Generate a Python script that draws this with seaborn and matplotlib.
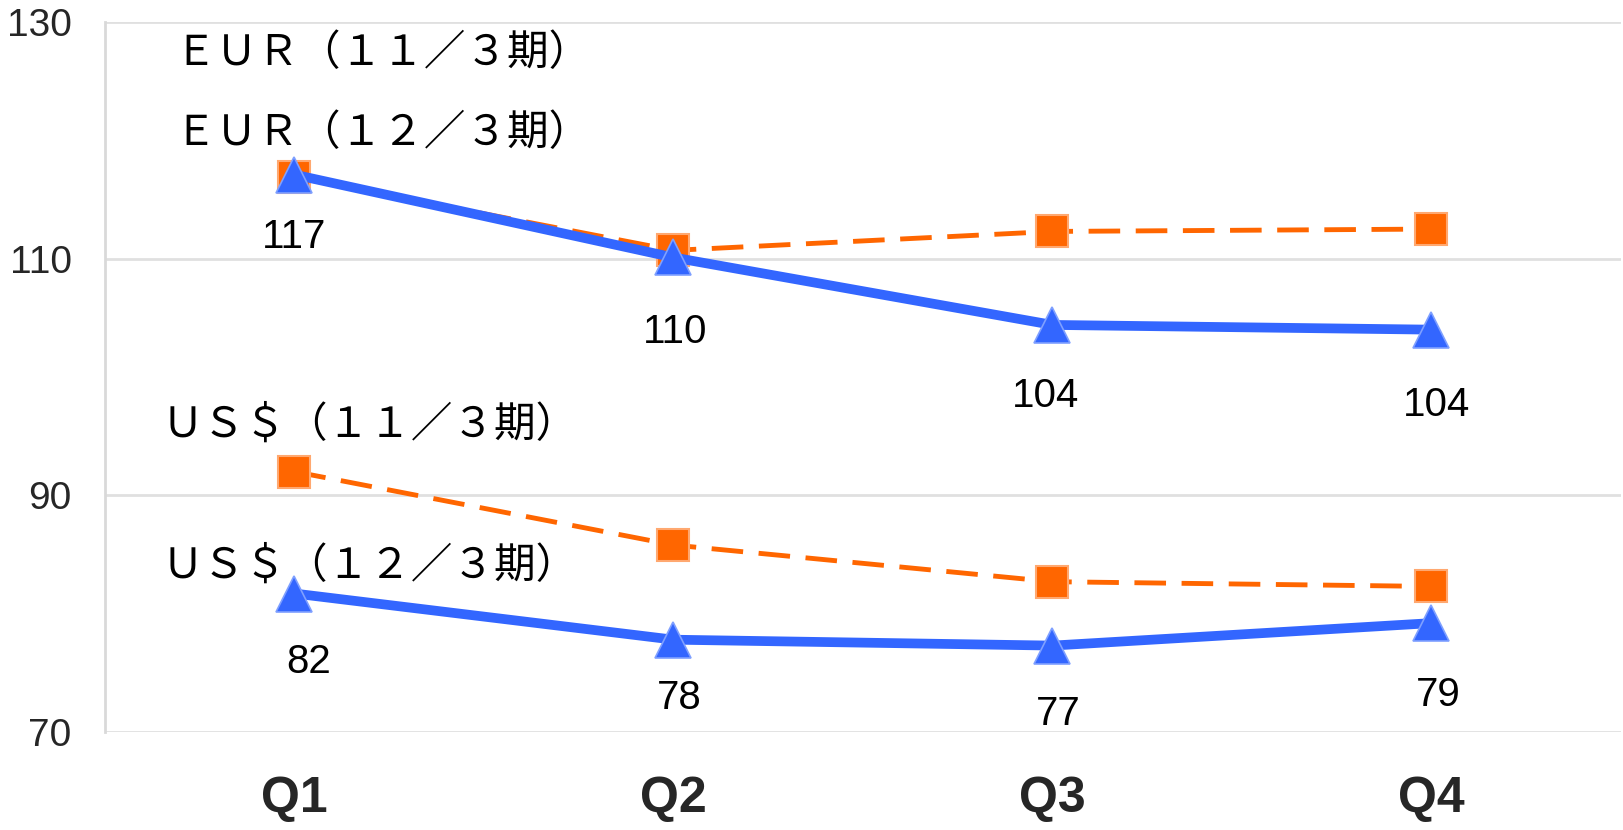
import matplotlib
matplotlib.use("Agg")
import matplotlib.pyplot as plt
import seaborn as sns
import pandas as pd

quarters = ["Q1", "Q2", "Q3", "Q4"]
eur_11 = [116.9, 110.7, 112.3, 112.5]
eur_12 = [117.1, 110.1, 104.4, 104.0]
usd_11 = [92.0, 85.8, 82.7, 82.3]
usd_12 = [81.7, 77.8, 77.3, 79.2]
series_names = ["ＥＵＲ（１１／３期）", "ＥＵＲ（１２／３期）", "ＵＳ＄（１１／３期）", "ＵＳ＄（１２／３期）"]
y_ticks = [70, 90, 110, 130]

sns.set_theme(style="white")
plt.rcParams['font.family'] = ['Noto Sans CJK JP', 'DejaVu Sans']

fig = plt.figure(figsize=(16.23, 8.30), dpi=100)
ax = fig.add_axes([0.0647, 0.1181, 0.934, 0.8554])

ORANGE = "#FF6600"
BLUE = "#3366FF"

df = pd.DataFrame({"q": quarters * 4,
                   "v": eur_11 + eur_12 + usd_11 + usd_12,
                   "s": [n for n in series_names for _ in quarters]})

for name in (series_names[0], series_names[2]):
    sns.lineplot(data=df[df.s == name], x="q", y="v", ax=ax, color=ORANGE,
                 linewidth=3.5, marker="s", markersize=23,
                 markerfacecolor=ORANGE, markeredgecolor="#FFA870",
                 markeredgewidth=1.5, zorder=3, sort=False)
for line in ax.get_lines():
    line.set_dashes((6.5, 3.2))

for name in (series_names[1], series_names[3]):
    sns.lineplot(data=df[df.s == name], x="q", y="v", ax=ax, color=BLUE,
                 linewidth=7, marker="^", markersize=26,
                 markerfacecolor=BLUE, markeredgecolor="#7FA0FF",
                 markeredgewidth=1.2, zorder=4, sort=False)

# data labels for the 12/3 series (offsets in points)
label_offsets = [[(0, -45), (1, -54), (-5, -51), (4, -54)],
                 [(10, -49), (4, -42), (4, -49), (5, -52)]]
for vals, offs in zip((eur_12, usd_12), label_offsets):
    for i, (v, off) in enumerate(zip(vals, offs)):
        ax.annotate(f"{round(v)}", (i, v), xytext=off, textcoords="offset points",
                    ha="center", va="center", fontsize=29, family="Liberation Sans",
                    color="black")

# series name labels
name_pos = [(0.232, 127.3), (0.232, 120.6), (0.198, 95.9), (0.198, 84.0)]
for n, (x, y) in zip(series_names, name_pos):
    ax.text(x, y, n, ha="center", va="center", fontsize=30, color="black",
            family=['Noto Sans CJK JP', 'DejaVu Sans'])

ax.set_xlim(-0.5, 3.5)
ax.set_ylim(70, 130)
ax.set_yticks(y_ticks)
ax.set_yticklabels([str(t) for t in y_ticks], family="Liberation Sans", fontsize=28)
ax.set_xticks(range(len(quarters)))
ax.set_xticklabels(quarters, fontsize=36, fontweight="bold", family="Liberation Sans")
ax.tick_params(axis="x", length=0, pad=32)
ax.tick_params(axis="y", length=0, pad=24)
ax.set_xlabel("")
ax.set_ylabel("")
ax.grid(axis="y", color="#E0E0E0", linewidth=2)
ax.set_axisbelow(True)
for s in ["top", "right", "bottom"]:
    ax.spines[s].set_visible(False)
ax.spines["left"].set_color("#D9D9D9")
ax.spines["left"].set_linewidth(2)
leg = ax.get_legend()
if leg:
    leg.remove()

fig.savefig("out.png", dpi=100)
